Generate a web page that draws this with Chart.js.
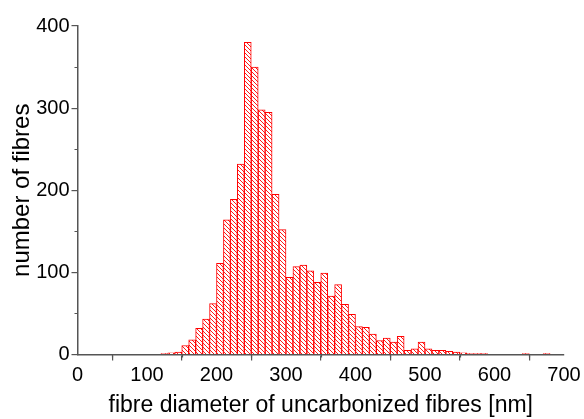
<!DOCTYPE html>
<html>
<head>
<meta charset="utf-8">
<script src="https://cdn.jsdelivr.net/npm/chart.js@4.4.1/dist/chart.umd.min.js"></script>
<style>
  html, body { margin: 0; padding: 0; background: #ffffff; }
  #wrap { width: 584px; height: 419px; }
</style>
</head>
<body>
<div id="wrap"><canvas id="histo" width="584" height="419"></canvas></div>
<script>
// ---------- data (10 nm bins, lower edge) ----------
const BIN_WIDTH = 10;
const binStarts = [
  120, 130, 140, 150, 160, 170, 180, 190, 200, 210,
  220, 230, 240, 250, 260, 270, 280, 290, 300, 310,
  320, 330, 340, 350, 360, 370, 380, 390, 400, 410,
  420, 430, 440, 450, 460, 470, 480, 490, 500, 510,
  520, 530, 540, 550, 560, 570, 580, 590, 600, 610,
  620, 630, 640, 650, 660, 670
];
const counts = [
  1, 2, 3, 11, 18, 32, 43, 62, 111, 164,
  189, 232, 380, 350, 298, 295, 195, 152, 94, 107,
  109, 102, 88, 99, 71, 85, 61, 49, 34, 33,
  25, 17, 20, 15, 22, 5, 7, 15, 7, 5,
  5, 4, 3, 2, 1, 1, 1, 0, 0, 0,
  0, 0, 1, 0, 0, 1
];
const xTicks = [0, 100, 200, 300, 400, 500, 600, 700];
const yTicks = [0, 100, 200, 300, 400];
const xMinor = [50, 150, 250, 350, 450, 550, 650];
const yMinor = [50, 150, 250, 350];

const RED = '#ff0000';
const AXIS = '#555555';
const FONT = '"Liberation Sans", Arial, Helvetica, sans-serif';

// hatch pattern "\\\\"
function makeHatch(color) {
  const s = 4;
  const c = document.createElement('canvas');
  c.width = s; c.height = s;
  const g = c.getContext('2d');
  g.fillStyle = '#ffffff';
  g.fillRect(0, 0, s, s);
  g.strokeStyle = color;
  g.lineWidth = 0.9;
  g.beginPath();
  g.moveTo(-1, -1); g.lineTo(s + 1, s + 1);
  g.moveTo(-1, s - 1); g.lineTo(1, s + 1);
  g.moveTo(s - 1, -1); g.lineTo(s + 1, 1);
  g.stroke();
  return g.createPattern(c, 'repeat');
}

// minor ticks (no native support)
const minorTicks = {
  id: 'minorTicks',
  afterDraw(chart) {
    const ctx = chart.ctx;
    const x = chart.scales.x, y = chart.scales.y;
    ctx.save();
    ctx.strokeStyle = AXIS;
    ctx.lineWidth = 1.2;
    ctx.beginPath();
    xMinor.forEach(v => {
      const px = Math.round(x.getPixelForValue(v)) + 0.5;
      ctx.moveTo(px, x.top);
      ctx.lineTo(px, x.top + 3);
    });
    yMinor.forEach(v => {
      const py = Math.round(y.getPixelForValue(v)) + 0.5;
      ctx.moveTo(y.right, py);
      ctx.lineTo(y.right - 3, py);
    });
    ctx.stroke();
    ctx.restore();
  }
};

Chart.defaults.font.family = FONT;
Chart.defaults.color = '#000000';

new Chart(document.getElementById('histo'), {
  type: 'bar',
  data: {
    datasets: [{
      // empty bins are left out (null) so no stray border is drawn
      data: binStarts.map((b, i) => ({ x: b + BIN_WIDTH / 2, y: counts[i] || null })),
      backgroundColor: makeHatch(RED),
      borderColor: RED,
      borderWidth: 1,
      borderSkipped: 'start',
      barPercentage: 1,
      categoryPercentage: 1
    }]
  },
  options: {
    responsive: false,
    animation: false,
    layout: { padding: { left: 0, right: 20, top: 26, bottom: 0 } },
    plugins: {
      legend: { display: false },
      tooltip: { enabled: false }
    },
    scales: {
      x: {
        type: 'linear',
        min: 0,
        max: 700,
        offset: false,
        z: 1,
        afterBuildTicks: s => { s.ticks = xTicks.map(v => ({ value: v })); },
        afterFit: s => { s.height = 64.5; },
        ticks: { font: { size: 20 }, padding: 3, maxRotation: 0, autoSkip: false },
        grid: { display: true, drawOnChartArea: false, drawTicks: true, tickLength: 6, color: AXIS, lineWidth: 1.2 },
        border: { display: true, color: AXIS, width: 1.5 },
        title: {
          display: true,
          text: 'fibre diameter of uncarbonized fibres [nm]',
          font: { size: 23 },
          padding: { top: 0, bottom: 0 }
        }
      },
      y: {
        min: 0,
        max: 400,
        z: 1,
        afterBuildTicks: s => { s.ticks = yTicks.map(v => ({ value: v })); },
        afterFit: s => { s.width = 77.5; },
        ticks: { font: { size: 20 }, padding: 2 },
        grid: { display: true, drawOnChartArea: false, drawTicks: true, tickLength: 6, color: AXIS, lineWidth: 1.2 },
        border: { display: true, color: AXIS, width: 1.5 },
        title: {
          display: true,
          text: 'number of fibres',
          font: { size: 24 },
          padding: { top: 8, bottom: 0 }
        }
      }
    }
  },
  plugins: [minorTicks]
});
</script>
</body>
</html>
